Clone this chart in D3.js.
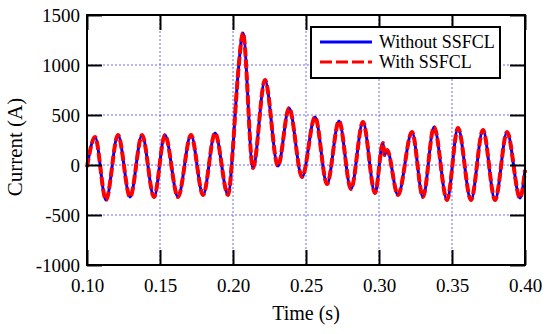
<!DOCTYPE html>
<html>
<head>
<meta charset="utf-8">
<script src="https://cdn.jsdelivr.net/npm/d3@7"></script>
<style>
  body { margin: 0; background: #fff; }
  svg text { font-family: "Liberation Serif", "Times New Roman", serif; fill: #000; }
</style>
</head>
<body>
<svg id="grafico"></svg>
<script>
// time samples (s): peaks, troughs and a few shape points
var tempos = [0.1000, 0.1055, 0.1130, 0.1212, 0.1295, 0.1377, 0.1459, 0.1534, 0.1623, 0.1712,
              0.1795, 0.1877, 0.1966, 0.2000, 0.2021, 0.2041, 0.2068, 0.2137, 0.2219, 0.2308,
              0.2384, 0.2473, 0.2562, 0.2644, 0.2726, 0.2808, 0.2890, 0.2973, 0.3027, 0.3038,
              0.3055, 0.3130, 0.3226, 0.3301, 0.3377, 0.3466, 0.3541, 0.3630, 0.3712, 0.3795,
              0.3877, 0.3966, 0.4000];

// current (A) without SSFCL
var semSSFCL = [-20, 280, -350, 300, -320, 300, -320, 300, -320, 300,
                -300, 320, -300, 180, 650, 1020, 1320, -30, 850, -10,
                570, -120, 480, -190, 440, -240, 430, -280, 220, 100,
                150, -300, 330, -320, 380, -350, 370, -350, 350, -350,
                330, -330, -50];

// current (A) with SSFCL (overlaps the curve above)
var comSSFCL = [-20, 280, -350, 300, -320, 300, -320, 300, -320, 300,
                -300, 320, -300, 180, 650, 1020, 1320, -30, 850, -10,
                570, -120, 480, -190, 440, -240, 430, -280, 220, 100,
                150, -300, 330, -320, 380, -350, 370, -350, 350, -350,
                330, -330, -50];

var ticksX = [0.10, 0.15, 0.20, 0.25, 0.30, 0.35, 0.40];
var ticksY = [-1000, -500, 0, 500, 1000, 1500];
var nomesSeries = ['Without SSFCL', 'With SSFCL'];

var fonte = '"Liberation Serif", "Times New Roman", serif';
var largura = 550, altura = 334;
var margem = {esquerda: 87, direita: 25, superior: 15, inferior: 69};
var larguraPlotagem = largura - margem.esquerda - margem.direita;
var alturaPlotagem = altura - margem.superior - margem.inferior;

var svg = d3.select('#grafico')
            .attr('width', largura)
            .attr('height', altura);

var plotagem = svg.append('g')
                  .attr('transform', 'translate(' + margem.esquerda + ',' + margem.superior + ')');

var x = d3.scaleLinear().domain([0.10, 0.40]).range([0, larguraPlotagem]);
var y = d3.scaleLinear().domain([-1000, 1500]).range([alturaPlotagem, 0]);

// dotted grid
plotagem.append('g')
        .selectAll('line')
        .data(ticksX.slice(1, -1))
        .enter().append('line')
        .attr('x1', d => x(d)).attr('x2', d => x(d))
        .attr('y1', 0).attr('y2', alturaPlotagem)
        .attr('stroke', '#6b6bff').attr('stroke-width', 1).attr('stroke-dasharray', '2,2');

plotagem.append('g')
        .selectAll('line')
        .data(ticksY.slice(1, -1))
        .enter().append('line')
        .attr('x1', 0).attr('x2', larguraPlotagem)
        .attr('y1', d => y(d)).attr('y2', d => y(d))
        .attr('stroke', '#6b6bff').attr('stroke-width', 1).attr('stroke-dasharray', '2,2');

// curves
var pontosSem = tempos.map((t, i) => [t, semSSFCL[i]]);
var pontosCom = tempos.map((t, i) => [t, comSSFCL[i]]);

var linha = d3.line()
              .x(d => x(d[0]))
              .y(d => y(d[1]))
              .curve(d3.curveMonotoneX);

plotagem.append('path')
        .datum(pontosSem)
        .attr('d', linha)
        .attr('fill', 'none')
        .attr('stroke', '#0000ff')
        .attr('stroke-width', 3);

plotagem.append('path')
        .datum(pontosCom)
        .attr('d', linha)
        .attr('fill', 'none')
        .attr('stroke', '#ff0000')
        .attr('stroke-width', 4)
        .attr('stroke-dasharray', '9,3');

// axes with inward ticks on all four sides
var tamTick = 15;
plotagem.append('g').attr('transform', 'translate(0,' + alturaPlotagem + ')')
        .call(d3.axisBottom(x).tickValues(ticksX).tickSize(-tamTick).tickPadding(14).tickFormat(d3.format('.2f')))
        .attr('font-family', fonte).attr('font-size', 19);
plotagem.append('g')
        .call(d3.axisTop(x).tickValues(ticksX).tickSize(-tamTick).tickFormat(''));
plotagem.append('g')
        .call(d3.axisLeft(y).tickValues(ticksY).tickSize(-tamTick).tickPadding(7).tickFormat(d => String(d)))
        .attr('font-family', fonte).attr('font-size', 19);
plotagem.append('g').attr('transform', 'translate(' + larguraPlotagem + ',0)')
        .call(d3.axisRight(y).tickValues(ticksY).tickSize(-tamTick).tickFormat(''));

plotagem.selectAll('.domain').remove();
plotagem.selectAll('.tick line').attr('stroke', '#000').attr('stroke-width', 2);

plotagem.append('rect')
        .attr('width', larguraPlotagem).attr('height', alturaPlotagem)
        .attr('fill', 'none').attr('stroke', '#000').attr('stroke-width', 2);

// axis titles
svg.append('text')
   .attr('x', margem.esquerda + larguraPlotagem / 2)
   .attr('y', 320)
   .style('text-anchor', 'middle')
   .style('font-size', '20px')
   .text('Time (s)');

svg.append('text')
   .attr('transform', 'translate(22,' + (margem.superior + alturaPlotagem / 2 + 7) + ') rotate(-90)')
   .style('text-anchor', 'middle')
   .style('font-size', '21px')
   .text('Current (A)');

// legend
var legenda = svg.append('g').attr('transform', 'translate(311,27)');
legenda.append('rect')
       .attr('width', 189).attr('height', 51)
       .attr('fill', '#fff').attr('stroke', '#000').attr('stroke-width', 2);
legenda.append('line')
       .attr('x1', 9).attr('x2', 61).attr('y1', 15).attr('y2', 15)
       .attr('stroke', '#0000ff').attr('stroke-width', 3);
legenda.append('line')
       .attr('x1', 9).attr('x2', 61).attr('y1', 35).attr('y2', 35)
       .attr('stroke', '#ff0000').attr('stroke-width', 3).attr('stroke-dasharray', '12,4');
legenda.selectAll('.rotulo')
       .data(nomesSeries)
       .enter().append('text')
       .attr('x', 68)
       .attr('y', (d, i) => 21 + i * 20)
       .style('font-size', '18px')
       .text(d => d);
</script>
</body>
</html>
